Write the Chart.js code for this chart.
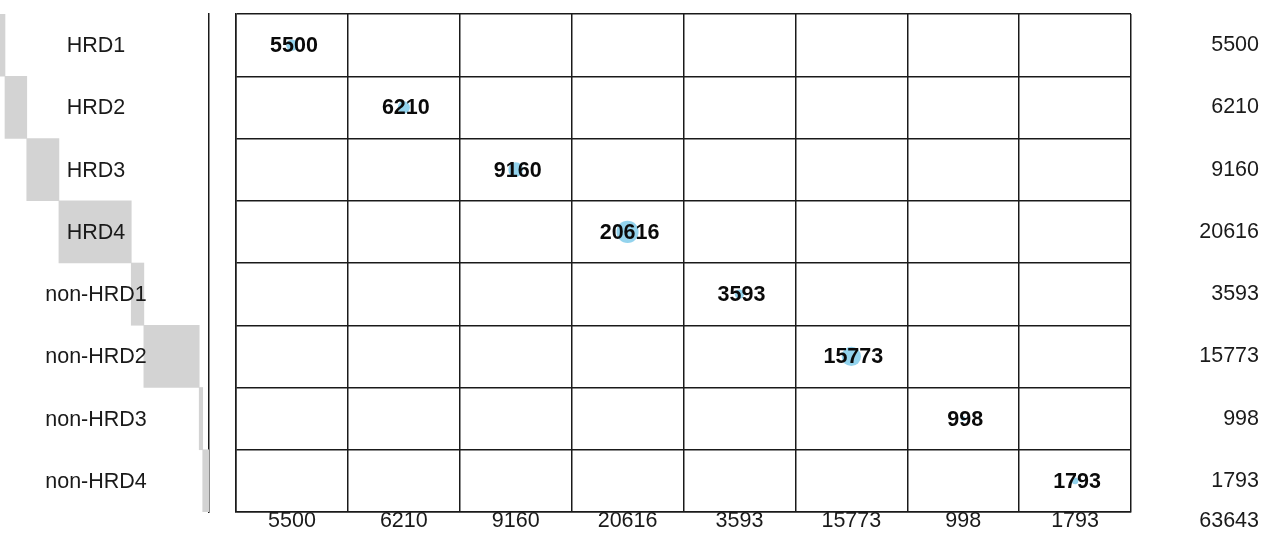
<!DOCTYPE html>
<html>
<head>
<meta charset="utf-8">
<script src="https://cdn.jsdelivr.net/npm/chart.js@4.4.1/dist/chart.umd.min.js"></script>
<style>
  html, body { margin: 0; padding: 0; background: #ffffff; }
  #wrap { position: relative; width: 1280px; height: 545px; }
  #main { position: absolute; left: 0; top: 0; }
  #side { position: absolute; left: 0; top: 0; }
</style>
</head>
<body>
<div id="wrap">
  <canvas id="main" width="1280" height="545"></canvas>
  <canvas id="side" width="212" height="545"></canvas>
</div>
<script>
// ---- data ----
const rowNames = ["HRD1", "HRD2", "HRD3", "HRD4", "non-HRD1", "non-HRD2", "non-HRD3", "non-HRD4"];
const diagValues = [5500, 6210, 9160, 20616, 3593, 15773, 998, 1793];
const rowTotals = [5500, 6210, 9160, 20616, 3593, 15773, 998, 1793];
const colTotals = [5500, 6210, 9160, 20616, 3593, 15773, 998, 1793];
const grandTotal = 63643;

const FONT = "'Liberation Sans', Arial, Helvetica, sans-serif";
const FS = 21.5;
const LINE = '#1a1a1a';

// ---- main grid chart (bubbles on the diagonal) ----
const colLabels = colTotals.map(String);
const bubbleData = diagValues.map((v, i) => ({
  x: colLabels[i],
  y: rowNames[i],
  r: 0.077 * Math.sqrt(v)
}));

const cellText = {
  id: 'cellText',
  afterDatasetsDraw(chart) {
    const ctx = chart.ctx;
    const meta = chart.getDatasetMeta(0);
    ctx.save();
    ctx.font = 'bold ' + FS + 'px ' + FONT;
    ctx.fillStyle = '#0a0a0a';
    ctx.textAlign = 'center';
    ctx.textBaseline = 'middle';
    meta.data.forEach((el, i) => {
      ctx.fillText(String(diagValues[i]), el.x + 2, el.y + 1);
    });
    // grand total, bottom-right corner
    const xs = chart.scales.x;
    const yr = chart.scales.yRight;
    ctx.font = FS + 'px ' + FONT;
    ctx.fillStyle = '#1a1a1a';
    ctx.textAlign = 'right';
    ctx.fillText(String(grandTotal), yr.right, xs.top + 9);
    ctx.restore();
  }
};

new Chart(document.getElementById('main'), {
  type: 'bubble',
  data: {
    datasets: [{
      data: bubbleData,
      backgroundColor: 'rgba(135,206,235,0.9)',
      borderWidth: 0,
      yAxisID: 'y',
      xAxisID: 'x'
    }]
  },
  options: {
    responsive: false,
    animation: false,
    devicePixelRatio: 1,
    layout: { padding: { left: 236, top: 14, right: 21, bottom: 0 } },
    plugins: { legend: { display: false }, tooltip: { enabled: false } },
    scales: {
      x: {
        type: 'category',
        labels: colLabels,
        position: 'bottom',
        offset: true,
        grid: { display: true, offset: true, color: LINE, lineWidth: 1.5, drawTicks: false },
        border: { display: true, color: LINE, width: 1.5 },
        ticks: { color: '#1a1a1a', font: { family: FONT, size: FS }, padding: -4, maxRotation: 0, autoSkip: false },
        afterFit(s) { s.height = 33; s.paddingLeft = 0; s.paddingRight = 0; }
      },
      y: {
        type: 'category',
        labels: rowNames,
        position: 'left',
        offset: true,
        grid: { display: true, offset: true, color: LINE, lineWidth: 1.5, drawTicks: false },
        border: { display: true, color: LINE, width: 1.5 },
        ticks: { display: false },
        afterFit(s) { s.width = 0; s.paddingTop = 0; s.paddingBottom = 0; }
      },
      yRight: {
        type: 'category',
        labels: rowTotals.map(String),
        position: 'right',
        offset: true,
        grid: { display: false, drawTicks: false },
        border: { display: false },
        ticks: { color: '#1a1a1a', font: { family: FONT, size: FS }, crossAlign: 'far', padding: 0 },
        afterFit(s) { s.width = 128; s.paddingTop = 0; s.paddingBottom = 0; }
      }
    }
  },
  plugins: [cellText]
});

// ---- left side: staircase of grey bars (cumulative row shares) ----
const starts = [];
const ends = [];
let acc = 0;
rowTotals.forEach(v => { starts.push(acc); acc += v; ends.push(acc); });
const stairData = rowNames.map((n, i) => [starts[i], ends[i]]);

const rowText = {
  id: 'rowText',
  afterDatasetsDraw(chart) {
    const ctx = chart.ctx;
    const ys = chart.scales.y;
    ctx.save();
    ctx.font = FS + 'px ' + FONT;
    ctx.fillStyle = '#1a1a1a';
    ctx.textAlign = 'center';
    ctx.textBaseline = 'middle';
    rowNames.forEach((n, i) => {
      ctx.fillText(n, 96, ys.getPixelForValue(i) + 1);
    });
    ctx.restore();
  }
};

new Chart(document.getElementById('side'), {
  type: 'bar',
  data: {
    labels: rowNames,
    datasets: [{
      data: stairData,
      backgroundColor: '#d3d3d3',
      borderWidth: 0,
      barPercentage: 1,
      categoryPercentage: 1
    }]
  },
  options: {
    indexAxis: 'y',
    responsive: false,
    animation: false,
    devicePixelRatio: 1,
    layout: { padding: { left: 0, top: 14, right: 0, bottom: 33 } },
    plugins: { legend: { display: false }, tooltip: { enabled: false } },
    scales: {
      x: {
        type: 'linear',
        min: 4080,
        max: grandTotal,
        display: false
      },
      y: {
        type: 'category',
        position: 'right',
        offset: true,
        grid: { display: false, drawTicks: false },
        border: { display: true, color: LINE, width: 1.5 },
        ticks: { display: false },
        afterFit(s) { s.width = 3; }
      }
    }
  },
  plugins: [rowText]
});
</script>
</body>
</html>
